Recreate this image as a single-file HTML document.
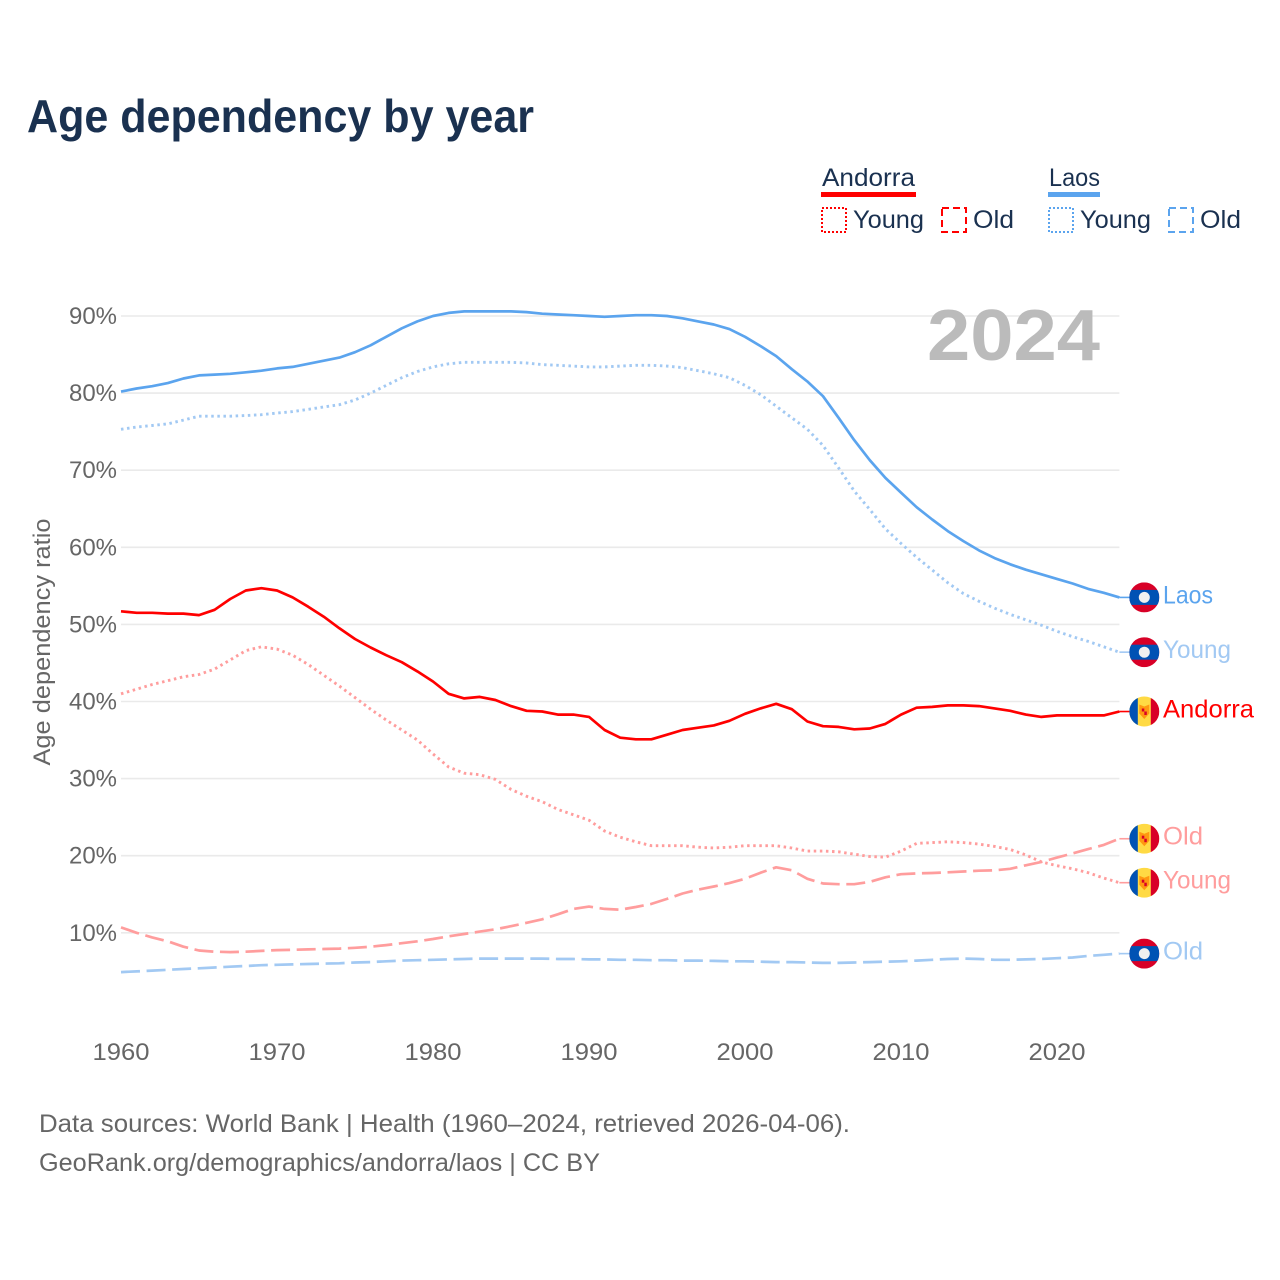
<!DOCTYPE html>
<html lang="en">
<head>
<meta charset="utf-8">
<title>Age dependency by year</title>
<style>
html,body{margin:0;padding:0;background:#fff;}
svg{display:block;font-family:"Liberation Sans",sans-serif;}
</style>
</head>
<body>
<svg id="chart" xmlns="http://www.w3.org/2000/svg" width="1280" height="1280" viewBox="0 0 1280 1280">
  <rect width="1280" height="1280" fill="#fff"/>
  <text x="27" y="132" font-size="46" font-weight="bold" fill="#1a3150" textLength="507" lengthAdjust="spacingAndGlyphs">Age dependency by year</text>

  <g>
    <text x="822" y="186" font-size="25" fill="#1a3150" textLength="93" lengthAdjust="spacingAndGlyphs">Andorra</text>
    <rect x="821" y="192" width="95" height="5" fill="#ff0000"/>
    <rect x="822" y="208" width="24" height="24" fill="none" stroke="#ff0000" stroke-width="2" stroke-dasharray="2 2"/>
    <text x="853" y="228" font-size="25" fill="#1a3150" textLength="71" lengthAdjust="spacingAndGlyphs">Young</text>
    <rect x="942" y="208" width="24" height="24" fill="none" stroke="#ff0000" stroke-width="2" stroke-dasharray="7 4"/>
    <text x="973" y="228" font-size="25" fill="#1a3150" textLength="41" lengthAdjust="spacingAndGlyphs">Old</text>

    <text x="1049" y="186" font-size="25" fill="#1a3150" textLength="51" lengthAdjust="spacingAndGlyphs">Laos</text>
    <rect x="1048" y="192" width="52" height="5" fill="#5ba4ee"/>
    <rect x="1049" y="208" width="24" height="24" fill="none" stroke="#5ba4ee" stroke-width="2" stroke-dasharray="2 2"/>
    <text x="1080" y="228" font-size="25" fill="#1a3150" textLength="71" lengthAdjust="spacingAndGlyphs">Young</text>
    <rect x="1169" y="208" width="24" height="24" fill="none" stroke="#5ba4ee" stroke-width="2" stroke-dasharray="7 4"/>
    <text x="1200" y="228" font-size="25" fill="#1a3150" textLength="41" lengthAdjust="spacingAndGlyphs">Old</text>
  </g>

  <g id="grid"></g>
  <g id="yticks"></g>
  <g id="xticks"></g>
  <text transform="translate(50,642) rotate(-90)" text-anchor="middle" font-size="24" fill="#666" textLength="247" lengthAdjust="spacingAndGlyphs">Age dependency ratio</text>
  <text x="927" y="360" font-size="72" font-weight="bold" fill="#bbbbbb" textLength="173" lengthAdjust="spacingAndGlyphs">2024</text>
  <g id="series"></g>
  <g id="ends"></g>

  <text x="39" y="1132" font-size="25" fill="#666" textLength="811" lengthAdjust="spacingAndGlyphs">Data sources: World Bank | Health (1960–2024, retrieved 2026-04-06).</text>
  <a><text x="39" y="1171" font-size="25" fill="#666" textLength="561" lengthAdjust="spacingAndGlyphs">GeoRank.org/demographics/andorra/laos | CC BY</text></a>
</svg>
<script>
const startYear = 1960;
const xTickYears = [1960, 1970, 1980, 1990, 2000, 2010, 2020];
const yTickValues = [90, 80, 70, 60, 50, 40, 30, 20, 10];

const laosTotal = [
  80.2,80.6,80.9,81.3,81.9,82.3,82.4,82.5,82.7,82.9,
  83.2,83.4,83.8,84.2,84.6,85.3,86.2,87.3,88.4,89.3,
  90.0,90.4,90.6,90.6,90.6,90.6,90.5,90.3,90.2,90.1,
  90.0,89.9,90.0,90.1,90.1,90.0,89.7,89.3,88.9,88.3,
  87.3,86.1,84.8,83.1,81.5,79.6,76.8,73.9,71.3,69.0,
  67.1,65.2,63.6,62.1,60.8,59.6,58.6,57.8,57.1,56.5,
  55.9,55.3,54.6,54.1,53.5
];
const laosYoung = [
  75.3,75.6,75.8,76.0,76.5,77.0,77.0,77.0,77.1,77.2,
  77.4,77.6,77.9,78.2,78.5,79.1,80.0,81.0,82.0,82.8,
  83.4,83.8,84.0,84.0,84.0,84.0,83.9,83.7,83.6,83.5,
  83.4,83.4,83.5,83.6,83.6,83.5,83.3,82.9,82.5,82.0,
  81.0,79.8,78.3,76.8,75.3,73.2,70.3,67.3,64.9,62.4,
  60.5,58.7,57.05,55.4,54.0,53.0,52.1,51.3,50.6,49.9,
  49.1,48.4,47.8,47.1,46.4
];
const laosOld = [
  4.9,5.0,5.1,5.2,5.3,5.4,5.5,5.6,5.7,5.8,
  5.85,5.9,5.95,6.0,6.05,6.15,6.2,6.3,6.4,6.45,
  6.5,6.55,6.6,6.65,6.65,6.65,6.65,6.65,6.6,6.6,
  6.55,6.55,6.5,6.5,6.45,6.45,6.4,6.4,6.35,6.3,
  6.3,6.25,6.2,6.2,6.15,6.1,6.1,6.15,6.2,6.25,
  6.3,6.4,6.5,6.6,6.65,6.6,6.5,6.5,6.55,6.6,
  6.7,6.8,7.0,7.15,7.3
];
const andorraTotal = [
  51.7,51.5,51.5,51.4,51.4,51.2,51.9,53.3,54.4,54.7,
  54.4,53.5,52.3,51.0,49.5,48.1,47.0,46.0,45.1,43.9,
  42.6,41.0,40.4,40.6,40.2,39.4,38.8,38.7,38.3,38.3,
  38.0,36.3,35.3,35.1,35.1,35.7,36.3,36.6,36.9,37.5,
  38.4,39.1,39.7,39.0,37.4,36.8,36.7,36.4,36.5,37.1,
  38.3,39.2,39.3,39.5,39.5,39.4,39.1,38.8,38.3,38.0,
  38.2,38.2,38.2,38.2,38.7
];
const andorraYoung = [
  41.0,41.6,42.2,42.7,43.2,43.5,44.2,45.4,46.6,47.1,
  46.8,46.0,44.8,43.4,42.0,40.5,39.0,37.6,36.3,35.0,
  33.2,31.5,30.7,30.5,29.9,28.6,27.7,27.0,26.0,25.3,
  24.6,23.2,22.4,21.8,21.3,21.3,21.3,21.1,21.0,21.1,
  21.3,21.3,21.3,21.0,20.6,20.6,20.5,20.2,19.9,19.8,
  20.6,21.6,21.7,21.8,21.7,21.5,21.2,20.8,20.1,19.2,
  18.7,18.3,17.8,17.1,16.5
];
const andorraOld = [
  10.7,10.0,9.4,8.9,8.2,7.7,7.55,7.5,7.55,7.65,
  7.75,7.8,7.85,7.9,7.95,8.05,8.2,8.4,8.65,8.9,
  9.2,9.55,9.85,10.15,10.45,10.85,11.3,11.75,12.4,13.1,
  13.4,13.1,13.0,13.35,13.75,14.4,15.1,15.6,16.0,16.45,
  17.0,17.8,18.5,18.1,17.0,16.4,16.3,16.3,16.6,17.2,
  17.6,17.7,17.75,17.85,17.95,18.05,18.1,18.3,18.75,19.2,
  19.75,20.3,20.85,21.4,22.2
];

const NS = 'http://www.w3.org/2000/svg';
function xScale(year) { return 121 + (year - 1960) * 15.6; }
function yScale(v) { return 316 + (90 - v) * 7.71; }

function make(tag, attrs, parent) {
  const el = document.createElementNS(NS, tag);
  for (const k in attrs) el.setAttribute(k, attrs[k]);
  parent.appendChild(el);
  return el;
}

const gridG = document.getElementById('grid');
const yG = document.getElementById('yticks');
const xG = document.getElementById('xticks');
yTickValues.forEach(function (v) {
  const line = make('line', {x1: 121, x2: xScale(2024), y1: yScale(v), y2: yScale(v), stroke: '#eaeaea', 'stroke-width': 1.6}, gridG);
  
  
  const t = make('text', {x: 117, y: yScale(v) + 8, 'text-anchor': 'end', 'font-size': 24.5, fill: '#666', textLength: 48, lengthAdjust: 'spacingAndGlyphs'}, yG);
  
  
  t.textContent = v + '%';
});
xTickYears.forEach(function (y) {
  const t = make('text', {x: xScale(y), y: 1060, 'text-anchor': 'middle', 'font-size': 24.5, fill: '#666', textLength: 57, lengthAdjust: 'spacingAndGlyphs'}, xG);
  
  
  t.textContent = y;
});

const seriesG = document.getElementById('series');
const endsG = document.getElementById('ends');
const DOT = '2.5 3.6';
const DASH = '19 6.6';
const LAOS_D = '#5ba4ee';
const LAOS_L = '#a2c9f3';
const AND_D = '#ff0000';
const AND_L = '#ff9d9d';

function drawSeries(values, color, dash, seriesName) {
  const pts = values.map(function (v, i) {
    return xScale(startYear + i).toFixed(1) + ',' + yScale(v).toFixed(1);
  }).join(' ');
  const attrs = {points: pts, fill: 'none', stroke: color, 'stroke-width': dash === DOT ? 2.9 : 2.7, 'stroke-linejoin': 'round'};
  if (dash) attrs['stroke-dasharray'] = dash;
  const line = make('polyline', attrs, seriesG);
  
  
}

function drawEnd(values, color, label, country, labelWidth, uid) {
  const last = values[values.length - 1];
  const cy = yScale(last);
  const lastX = xScale(startYear + values.length - 1);
  const conn = make('line', {x1: lastX, x2: 1130, y1: cy, y2: cy, stroke: color, 'stroke-width': 1.6}, endsG);
  
  

  const g = make('g', {transform: 'translate(1144.3,' + cy.toFixed(1) + ')'}, endsG);
  
  
  const clip = make('clipPath', {id: 'clip' + uid}, g);
  make('circle', {r: 15}, clip);
  const inner = make('g', {'clip-path': 'url(#clip' + uid + ')'}, g);
  if (country === 'laos') {
    make('rect', {x: -15, y: -15, width: 30, height: 30, fill: '#d80027'}, inner);
    make('rect', {x: -15, y: -7.5, width: 30, height: 15, fill: '#0052b4'}, inner);
    make('circle', {r: 5.5, fill: '#f0f0f0'}, inner);
  } else {
    make('rect', {x: -15, y: -15, width: 30, height: 30, fill: '#ffda44'}, inner);
    make('rect', {x: -15, y: -15, width: 8.5, height: 30, fill: '#0052b4'}, inner);
    make('rect', {x: 6.5, y: -15, width: 8.5, height: 30, fill: '#d80027'}, inner);
    make('path', {d: 'M-5,-7 L0,-5 L5,-7 V2 L0,7.5 L-5,2 Z', fill: '#ff9811'}, inner);
    make('rect', {x: -2.5, y: -3, width: 2.5, height: 3, fill: '#d80027'}, inner);
    make('rect', {x: 0, y: 0, width: 2.5, height: 3.5, fill: '#d80027'}, inner);
  }

  const t = make('text', {x: 1163, y: cy + 6, 'font-size': 25, fill: color, textLength: labelWidth, lengthAdjust: 'spacingAndGlyphs'}, endsG);
  
  
  t.textContent = label;
}

drawSeries(laosTotal, LAOS_D, null, 'line-laos-total');
drawSeries(laosYoung, LAOS_L, DOT, 'line-laos-young');
drawSeries(laosOld, LAOS_L, DASH, 'line-laos-old');
drawSeries(andorraTotal, AND_D, null, 'line-andorra-total');
drawSeries(andorraYoung, AND_L, DOT, 'line-andorra-young');
drawSeries(andorraOld, AND_L, DASH, 'line-andorra-old');

drawEnd(laosTotal, LAOS_D, 'Laos', 'laos', 50, 1);
drawEnd(laosYoung, LAOS_L, 'Young', 'laos', 68, 2);
drawEnd(laosOld, LAOS_L, 'Old', 'laos', 40, 3);
drawEnd(andorraTotal, AND_D, 'Andorra', 'andorra', 91, 4);
drawEnd(andorraYoung, AND_L, 'Young', 'andorra', 68, 5);
drawEnd(andorraOld, AND_L, 'Old', 'andorra', 40, 6);
</script>
</body>
</html>
